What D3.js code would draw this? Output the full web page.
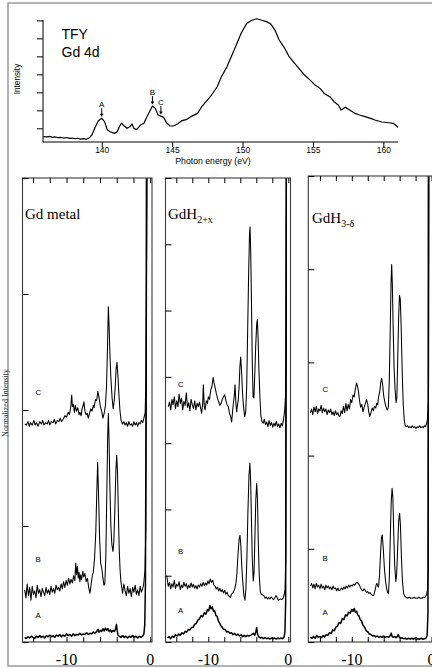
<!DOCTYPE html>
<html><head><meta charset="utf-8">
<script src="https://cdn.jsdelivr.net/npm/d3@7"></script>
<style>html,body{margin:0;padding:0;background:#fff;} svg{display:block;}</style>
</head><body>
<svg id="c" width="432" height="668"></svg>
<script>
// ---------------- DATA ----------------
// Top panel: TFY Gd 4d spectrum
const topEnergy = [135.85,136.1,136.3,136.5,136.7,136.9,137.1,137.3,137.5,137.7,137.9,138.1,138.3,138.5,138.7,138.9,139.1,139.3,139.5,139.75,140.0,140.2,140.4,140.6,140.9,141.1,141.25,141.4,141.6,141.8,142.0,142.15,142.3,142.5,142.75,143.0,143.15,143.4,143.6,143.8,144.0,144.2,144.4,144.6,144.85,145.1,145.4,145.7,146.0,146.4,146.8,147.1,147.5,147.8,148.2,148.5,148.9,149.2,149.6,149.9,150.3,150.6,151.0,151.3,151.7,152.0,152.3,152.6,153.0,153.3,153.7,154.0,154.4,154.8,155.1,155.5,155.8,156.2,156.5,156.8,157.0,157.3,157.6,158.0,158.3,158.7,159.1,159.4,159.9,160.4,160.7,161.05];
const topIntensity = [0.54,0.52,0.55,0.50,0.52,0.48,0.50,0.46,0.49,0.44,0.46,0.42,0.45,0.40,0.43,0.39,0.46,0.63,1.00,1.41,1.56,1.37,0.91,0.81,0.72,0.81,1.09,1.28,1.13,1.00,1.09,1.24,0.98,0.94,1.18,1.28,1.55,1.93,2.24,2.11,1.74,1.68,1.61,1.31,1.13,1.13,1.25,1.43,1.48,1.68,1.83,2.20,2.57,2.85,3.31,3.87,4.43,4.98,5.72,6.28,6.83,6.98,7.09,7.02,6.93,6.80,6.46,5.91,5.44,5.00,4.61,4.33,3.96,3.68,3.44,3.22,2.94,2.76,2.48,2.30,2.02,2.17,2.02,1.83,1.74,1.65,1.55,1.46,1.35,1.31,1.28,1.06];
const topMarkerLabels = ["A","B","C"];
const topMarkerEnergy = [140.0, 143.6, 144.2];
const topXTicks = [140,145,150,155,160];
const topYTicks = [1,2,3,4,5,6,7];

// Lower panels: emission spectra (energy in eV, normalized intensity)
const lowerXTicks = [-14,-12,-10,-8,-6,-4,-2,0];
const lowerXLabels = [-10, 0];
const curveLabels = ["A","B","C"];

const gdMetalA = [[-15.0,0.04],[-14.8,0.03],[-14.6,0.045],[-14.4,0.035],[-14.2,0.05],[-14.0,0.04],[-13.8,0.03],[-13.6,0.05],[-13.4,0.04],[-13.2,0.055],[-13.0,0.04],[-12.8,0.05],[-12.6,0.035],[-12.4,0.055],[-12.2,0.045],[-12.0,0.06],[-11.8,0.045],[-11.6,0.055],[-11.4,0.04],[-11.2,0.06],[-11.0,0.05],[-10.8,0.065],[-10.6,0.045],[-10.4,0.06],[-10.2,0.05],[-10.0,0.07],[-9.8,0.055],[-9.6,0.065],[-9.4,0.05],[-9.2,0.07],[-9.0,0.055],[-8.8,0.065],[-8.6,0.06],[-8.4,0.075],[-8.2,0.06],[-8.0,0.07],[-7.8,0.065],[-7.6,0.08],[-7.4,0.065],[-7.2,0.075],[-7.0,0.07],[-6.8,0.085],[-6.6,0.075],[-6.4,0.09],[-6.25,0.11],[-6.1,0.085],[-5.95,0.10],[-5.8,0.09],[-5.65,0.115],[-5.5,0.095],[-5.35,0.12],[-5.2,0.10],[-5.05,0.115],[-4.9,0.09],[-4.75,0.105],[-4.6,0.085],[-4.45,0.10],[-4.3,0.09],[-4.15,0.11],[-4.03,0.15],[-3.95,0.10],[-3.85,0.06],[-3.7,0.05],[-3.5,0.04],[-3.3,0.055],[-3.1,0.04],[-2.9,0.05],[-2.7,0.035],[-2.5,0.05],[-2.3,0.04],[-2.1,0.055],[-1.9,0.04],[-1.7,0.05],[-1.5,0.035],[-1.3,0.05],[-1.1,0.04],[-0.9,0.05],[-0.75,0.07],[-0.65,0.15],[-0.57,0.5],[-0.5,2.0],[-0.4,6.0],[0.3,6.0]];
const gdMetalB = [[-15.0,0.45],[-14.85,0.38],[-14.7,0.50],[-14.55,0.40],[-14.4,0.47],[-14.25,0.36],[-14.1,0.48],[-13.95,0.41],[-13.8,0.44],[-13.65,0.38],[-13.5,0.49],[-13.35,0.42],[-13.2,0.45],[-13.05,0.39],[-12.9,0.46],[-12.75,0.43],[-12.6,0.40],[-12.45,0.47],[-12.3,0.42],[-12.15,0.45],[-12.0,0.41],[-11.85,0.48],[-11.7,0.43],[-11.55,0.46],[-11.4,0.42],[-11.25,0.49],[-11.1,0.45],[-10.95,0.47],[-10.8,0.44],[-10.65,0.50],[-10.5,0.46],[-10.35,0.52],[-10.2,0.47],[-10.05,0.53],[-9.9,0.49],[-9.75,0.55],[-9.6,0.50],[-9.45,0.54],[-9.3,0.51],[-9.15,0.57],[-9.0,0.53],[-8.9,0.68],[-8.8,0.58],[-8.7,0.65],[-8.6,0.55],[-8.5,0.60],[-8.4,0.52],[-8.3,0.58],[-8.2,0.54],[-8.05,0.61],[-7.95,0.56],[-7.8,0.59],[-7.65,0.52],[-7.5,0.55],[-7.35,0.47],[-7.2,0.42],[-7.05,0.50],[-6.9,0.58],[-6.8,0.60],[-6.65,0.72],[-6.5,0.95],[-6.38,1.30],[-6.28,1.55],[-6.18,1.30],[-6.05,0.90],[-5.92,0.68],[-5.8,0.64],[-5.65,0.55],[-5.52,0.49],[-5.42,0.50],[-5.3,0.75],[-5.18,1.30],[-5.08,1.78],[-5.0,1.97],[-4.92,1.75],[-4.82,1.35],[-4.7,1.00],[-4.58,0.84],[-4.45,0.78],[-4.35,0.86],[-4.22,1.15],[-4.1,1.48],[-4.0,1.61],[-3.9,1.45],[-3.8,1.10],[-3.7,0.80],[-3.6,0.62],[-3.5,0.52],[-3.4,0.47],[-3.3,0.42],[-3.15,0.50],[-3.0,0.44],[-2.85,0.40],[-2.7,0.48],[-2.55,0.42],[-2.4,0.46],[-2.25,0.39],[-2.1,0.47],[-1.95,0.43],[-1.8,0.49],[-1.65,0.41],[-1.5,0.45],[-1.35,0.40],[-1.2,0.48],[-1.05,0.43],[-0.9,0.46],[-0.78,0.50],[-0.62,0.62],[-0.52,1.0],[-0.45,2.5],[-0.33,6.0],[0.3,6.0]];
const gdMetalC = [[-15.0,1.88],[-14.8,1.87],[-14.6,1.90],[-14.45,1.86],[-14.3,1.89],[-14.1,1.87],[-13.9,1.91],[-13.75,1.87],[-13.6,1.89],[-13.4,1.86],[-13.2,1.90],[-13.0,1.88],[-12.85,1.91],[-12.7,1.87],[-12.5,1.89],[-12.3,1.88],[-12.15,1.91],[-12.0,1.87],[-11.8,1.90],[-11.6,1.89],[-11.45,1.92],[-11.3,1.88],[-11.1,1.91],[-10.9,1.90],[-10.75,1.93],[-10.6,1.90],[-10.4,1.92],[-10.2,1.95],[-10.0,1.94],[-9.8,1.98],[-9.65,1.96],[-9.5,2.02],[-9.38,2.13],[-9.3,2.03],[-9.19,2.05],[-9.05,1.98],[-8.95,2.04],[-8.8,1.99],[-8.65,2.02],[-8.5,1.96],[-8.4,1.98],[-8.25,1.95],[-8.15,2.01],[-8.05,2.03],[-7.92,2.07],[-7.8,1.99],[-7.67,1.96],[-7.52,1.97],[-7.4,1.93],[-7.25,1.97],[-7.1,2.01],[-6.95,1.99],[-6.8,2.04],[-6.7,2.02],[-6.55,2.09],[-6.4,2.08],[-6.25,2.16],[-6.1,2.10],[-5.95,2.03],[-5.8,1.99],[-5.65,1.93],[-5.5,1.97],[-5.35,2.04],[-5.22,2.20],[-5.1,2.55],[-5.0,2.89],[-4.9,2.70],[-4.8,2.45],[-4.7,2.28],[-4.55,2.10],[-4.42,2.01],[-4.3,2.08],[-4.18,2.20],[-4.07,2.36],[-3.97,2.41],[-3.86,2.30],[-3.75,2.15],[-3.62,2.00],[-3.48,1.91],[-3.3,1.88],[-3.15,1.90],[-3.0,1.87],[-2.85,1.89],[-2.7,1.86],[-2.55,1.90],[-2.4,1.87],[-2.25,1.88],[-2.1,1.86],[-1.95,1.90],[-1.8,1.87],[-1.65,1.89],[-1.5,1.86],[-1.35,1.89],[-1.2,1.88],[-1.05,1.91],[-0.9,1.89],[-0.75,1.93],[-0.6,1.98],[-0.5,2.3],[-0.42,3.5],[-0.3,6.0],[0.3,6.0]];

const gdH2A = [[-15.1,0.06],[-14.9,0.08],[-14.7,0.05],[-14.5,0.09],[-14.3,0.07],[-14.1,0.11],[-13.9,0.09],[-13.7,0.12],[-13.5,0.10],[-13.3,0.14],[-13.1,0.12],[-12.9,0.16],[-12.7,0.15],[-12.5,0.19],[-12.3,0.18],[-12.1,0.22],[-11.9,0.22],[-11.7,0.27],[-11.5,0.28],[-11.3,0.33],[-11.1,0.35],[-10.9,0.40],[-10.7,0.38],[-10.5,0.44],[-10.3,0.42],[-10.1,0.49],[-9.95,0.47],[-9.8,0.55],[-9.65,0.50],[-9.5,0.53],[-9.35,0.46],[-9.2,0.47],[-9.05,0.40],[-8.9,0.39],[-8.75,0.32],[-8.6,0.29],[-8.45,0.25],[-8.3,0.23],[-8.1,0.19],[-7.9,0.19],[-7.7,0.15],[-7.5,0.16],[-7.3,0.13],[-7.1,0.14],[-6.9,0.11],[-6.7,0.13],[-6.5,0.10],[-6.3,0.12],[-6.1,0.09],[-5.9,0.11],[-5.7,0.08],[-5.5,0.10],[-5.3,0.08],[-5.1,0.10],[-4.9,0.09],[-4.7,0.10],[-4.5,0.12],[-4.35,0.13],[-4.2,0.10],[-4.05,0.16],[-3.95,0.22],[-3.85,0.12],[-3.7,0.08],[-3.5,0.06],[-3.3,0.07],[-3.1,0.05],[-2.9,0.065],[-2.7,0.05],[-2.5,0.06],[-2.3,0.045],[-2.1,0.06],[-1.9,0.05],[-1.7,0.06],[-1.5,0.045],[-1.3,0.06],[-1.1,0.05],[-0.9,0.06],[-0.7,0.05],[-0.55,0.07],[-0.42,0.15],[-0.33,0.6],[-0.25,9],[0.4,9]];
const gdH2B = [[-15.2,1.0],[-15.1,0.92],[-15.0,0.84],[-14.85,0.90],[-14.7,0.80],[-14.55,0.88],[-14.4,0.83],[-14.25,0.93],[-14.1,0.81],[-13.95,0.87],[-13.8,0.84],[-13.65,0.91],[-13.5,0.79],[-13.35,0.86],[-13.2,0.82],[-13.05,0.90],[-12.9,0.84],[-12.75,0.88],[-12.6,0.80],[-12.45,0.86],[-12.3,0.82],[-12.15,0.89],[-12.0,0.83],[-11.85,0.87],[-11.7,0.81],[-11.55,0.85],[-11.4,0.80],[-11.25,0.86],[-11.1,0.83],[-10.95,0.88],[-10.8,0.84],[-10.65,0.90],[-10.5,0.85],[-10.35,0.89],[-10.2,0.86],[-10.05,0.92],[-9.9,0.88],[-9.75,0.95],[-9.6,0.90],[-9.45,0.93],[-9.3,0.86],[-9.15,0.84],[-9.0,0.80],[-8.85,0.83],[-8.7,0.77],[-8.55,0.81],[-8.4,0.76],[-8.25,0.79],[-8.1,0.74],[-7.95,0.78],[-7.8,0.72],[-7.65,0.75],[-7.5,0.70],[-7.35,0.69],[-7.25,0.67],[-7.1,0.72],[-6.95,0.74],[-6.85,0.76],[-6.7,0.80],[-6.55,0.88],[-6.42,1.04],[-6.3,1.30],[-6.15,1.55],[-6.04,1.61],[-5.93,1.45],[-5.82,1.15],[-5.7,0.92],[-5.55,0.70],[-5.42,0.63],[-5.3,0.80],[-5.18,1.25],[-5.05,1.95],[-4.92,2.50],[-4.8,2.70],[-4.7,2.40],[-4.6,1.80],[-4.5,1.25],[-4.38,0.92],[-4.28,1.05],[-4.18,1.55],[-4.06,2.15],[-3.95,2.39],[-3.85,2.15],[-3.75,1.50],[-3.63,1.00],[-3.5,0.76],[-3.38,0.72],[-3.2,0.71],[-3.05,0.70],[-2.9,0.66],[-2.75,0.68],[-2.6,0.65],[-2.45,0.67],[-2.3,0.65],[-2.15,0.68],[-2.0,0.66],[-1.85,0.64],[-1.7,0.66],[-1.55,0.70],[-1.4,0.67],[-1.25,0.63],[-1.1,0.64],[-0.95,0.65],[-0.8,0.64],[-0.65,0.66],[-0.5,0.72],[-0.4,0.80],[-0.3,1.3],[-0.2,9],[0.4,9]];
const gdH2C = [[-15.0,3.55],[-14.85,3.62],[-14.7,3.50],[-14.55,3.66],[-14.4,3.58],[-14.25,3.70],[-14.1,3.52],[-13.95,3.64],[-13.8,3.55],[-13.65,3.74],[-13.5,3.60],[-13.35,3.68],[-13.2,3.50],[-13.05,3.63],[-12.9,3.57],[-12.75,3.76],[-12.6,3.54],[-12.45,3.61],[-12.3,3.49],[-12.15,3.66],[-12.0,3.58],[-11.85,3.52],[-11.7,3.64],[-11.55,3.50],[-11.4,3.60],[-11.25,3.55],[-11.1,3.62],[-10.95,3.52],[-10.83,3.45],[-10.7,3.60],[-10.62,3.88],[-10.5,3.55],[-10.4,3.50],[-10.25,3.64],[-10.1,3.60],[-10.0,3.70],[-9.85,3.66],[-9.7,3.80],[-9.55,3.85],[-9.4,3.99],[-9.3,3.92],[-9.15,3.84],[-9.0,3.75],[-8.85,3.68],[-8.7,3.62],[-8.55,3.57],[-8.4,3.60],[-8.25,3.66],[-8.1,3.70],[-7.95,3.73],[-7.8,3.64],[-7.65,3.58],[-7.5,3.55],[-7.35,3.45],[-7.2,3.40],[-7.08,3.32],[-6.95,3.50],[-6.85,3.62],[-6.75,3.72],[-6.66,3.88],[-6.55,3.60],[-6.45,3.47],[-6.35,3.58],[-6.25,3.65],[-6.15,3.85],[-6.05,4.15],[-5.95,4.30],[-5.85,4.10],[-5.72,3.75],[-5.6,3.55],[-5.45,3.40],[-5.32,3.48],[-5.2,3.85],[-5.08,4.70],[-4.95,5.60],[-4.85,6.15],[-4.78,6.26],[-4.7,5.90],[-4.6,5.10],[-4.5,4.20],[-4.4,3.70],[-4.3,3.68],[-4.2,4.00],[-4.08,4.45],[-3.95,4.80],[-3.87,4.86],[-3.78,4.60],[-3.67,4.10],[-3.55,3.70],[-3.43,3.42],[-3.3,3.33],[-3.15,3.30],[-3.0,3.36],[-2.85,3.28],[-2.7,3.32],[-2.55,3.25],[-2.4,3.34],[-2.25,3.27],[-2.1,3.31],[-1.95,3.24],[-1.8,3.30],[-1.65,3.26],[-1.5,3.33],[-1.35,3.25],[-1.2,3.29],[-1.05,3.23],[-0.9,3.30],[-0.75,3.26],[-0.6,3.35],[-0.45,3.50],[-0.35,3.7],[-0.27,4.5],[-0.18,9],[0.4,9]];

const gdH3A = [[-15.2,0.05],[-15.0,0.04],[-14.8,0.06],[-14.6,0.04],[-14.4,0.07],[-14.2,0.05],[-14.0,0.06],[-13.8,0.045],[-13.6,0.07],[-13.4,0.055],[-13.2,0.08],[-13.0,0.07],[-12.8,0.10],[-12.6,0.09],[-12.4,0.13],[-12.2,0.12],[-12.0,0.16],[-11.8,0.17],[-11.6,0.21],[-11.4,0.20],[-11.2,0.25],[-11.0,0.24],[-10.8,0.29],[-10.6,0.28],[-10.4,0.32],[-10.2,0.31],[-10.0,0.35],[-9.85,0.33],[-9.7,0.36],[-9.55,0.32],[-9.4,0.33],[-9.25,0.29],[-9.1,0.28],[-8.95,0.24],[-8.8,0.23],[-8.65,0.19],[-8.5,0.17],[-8.35,0.15],[-8.2,0.12],[-8.0,0.11],[-7.8,0.085],[-7.6,0.08],[-7.4,0.065],[-7.2,0.07],[-7.0,0.055],[-6.8,0.065],[-6.6,0.05],[-6.4,0.06],[-6.2,0.05],[-6.0,0.065],[-5.8,0.05],[-5.6,0.06],[-5.4,0.05],[-5.2,0.065],[-5.05,0.095],[-4.95,0.06],[-4.8,0.05],[-4.6,0.06],[-4.45,0.045],[-4.3,0.06],[-4.17,0.08],[-4.05,0.05],[-3.9,0.04],[-3.7,0.045],[-3.5,0.035],[-3.3,0.04],[-3.1,0.03],[-2.9,0.04],[-2.7,0.03],[-2.5,0.04],[-2.3,0.03],[-2.1,0.04],[-1.9,0.03],[-1.7,0.035],[-1.5,0.03],[-1.3,0.04],[-1.1,0.03],[-0.9,0.035],[-0.7,0.04],[-0.55,0.07],[-0.45,0.3],[-0.37,7],[0.5,7]];
const gdH3B = [[-15.2,0.60],[-15.05,0.63],[-14.9,0.58],[-14.75,0.62],[-14.6,0.57],[-14.45,0.63],[-14.3,0.59],[-14.15,0.61],[-14.0,0.57],[-13.85,0.62],[-13.7,0.58],[-13.55,0.60],[-13.4,0.56],[-13.25,0.61],[-13.1,0.58],[-12.95,0.60],[-12.8,0.57],[-12.65,0.59],[-12.5,0.56],[-12.35,0.60],[-12.2,0.57],[-12.05,0.58],[-11.9,0.55],[-11.75,0.58],[-11.6,0.55],[-11.45,0.56],[-11.3,0.58],[-11.15,0.56],[-11.0,0.59],[-10.85,0.57],[-10.7,0.60],[-10.55,0.58],[-10.4,0.61],[-10.25,0.59],[-10.1,0.61],[-9.95,0.60],[-9.8,0.62],[-9.65,0.61],[-9.5,0.63],[-9.35,0.64],[-9.2,0.63],[-9.05,0.61],[-8.9,0.58],[-8.75,0.56],[-8.6,0.55],[-8.45,0.57],[-8.3,0.55],[-8.15,0.53],[-8.0,0.54],[-7.85,0.52],[-7.7,0.53],[-7.55,0.51],[-7.4,0.50],[-7.25,0.50],[-7.1,0.55],[-6.95,0.61],[-6.85,0.63],[-6.75,0.60],[-6.65,0.59],[-6.52,0.72],[-6.4,0.95],[-6.28,1.12],[-6.18,1.15],[-6.05,1.00],[-5.92,0.80],[-5.8,0.68],[-5.65,0.58],[-5.5,0.53],[-5.4,0.52],[-5.3,0.68],[-5.18,1.10],[-5.06,1.50],[-4.95,1.65],[-4.85,1.55],[-4.75,1.20],[-4.62,0.82],[-4.48,0.65],[-4.38,0.72],[-4.25,1.00],[-4.12,1.30],[-4.0,1.38],[-3.9,1.25],[-3.78,0.92],[-3.65,0.65],[-3.5,0.52],[-3.35,0.49],[-3.2,0.48],[-3.0,0.47],[-2.8,0.48],[-2.6,0.47],[-2.4,0.47],[-2.2,0.48],[-2.0,0.47],[-1.8,0.47],[-1.6,0.48],[-1.4,0.47],[-1.2,0.47],[-1.0,0.48],[-0.8,0.48],[-0.62,0.51],[-0.5,0.56],[-0.4,0.75],[-0.32,7],[0.5,7]];
const gdH3C = [[-15.2,2.46],[-15.05,2.50],[-14.9,2.44],[-14.75,2.52],[-14.6,2.47],[-14.45,2.53],[-14.3,2.45],[-14.15,2.50],[-14.0,2.48],[-13.85,2.54],[-13.7,2.46],[-13.55,2.51],[-13.4,2.47],[-13.25,2.50],[-13.1,2.44],[-12.95,2.49],[-12.8,2.46],[-12.65,2.50],[-12.5,2.44],[-12.35,2.47],[-12.2,2.43],[-12.05,2.48],[-11.9,2.44],[-11.75,2.46],[-11.6,2.42],[-11.48,2.42],[-11.35,2.48],[-11.2,2.45],[-11.05,2.53],[-10.9,2.46],[-10.75,2.56],[-10.6,2.48],[-10.45,2.55],[-10.3,2.50],[-10.15,2.60],[-10.0,2.57],[-9.85,2.65],[-9.7,2.63],[-9.55,2.72],[-9.4,2.78],[-9.28,2.74],[-9.18,2.70],[-9.05,2.60],[-8.9,2.52],[-8.75,2.55],[-8.6,2.47],[-8.45,2.52],[-8.3,2.56],[-8.15,2.60],[-8.0,2.55],[-7.88,2.47],[-7.75,2.42],[-7.6,2.46],[-7.45,2.51],[-7.3,2.48],[-7.15,2.53],[-7.0,2.51],[-6.88,2.56],[-6.75,2.55],[-6.65,2.63],[-6.5,2.68],[-6.38,2.78],[-6.25,2.83],[-6.12,2.75],[-6.0,2.64],[-5.85,2.57],[-5.7,2.52],[-5.55,2.49],[-5.42,2.52],[-5.3,2.80],[-5.18,3.35],[-5.08,3.85],[-5.0,4.05],[-4.92,3.85],[-4.82,3.40],[-4.7,2.95],[-4.58,2.72],[-4.45,2.57],[-4.35,2.62],[-4.25,3.00],[-4.12,3.50],[-4.02,3.72],[-3.92,3.68],[-3.8,3.35],[-3.68,2.90],[-3.55,2.55],[-3.42,2.38],[-3.3,2.32],[-3.15,2.31],[-3.0,2.32],[-2.85,2.30],[-2.7,2.31],[-2.55,2.30],[-2.4,2.32],[-2.25,2.30],[-2.1,2.31],[-1.95,2.29],[-1.8,2.31],[-1.65,2.30],[-1.5,2.32],[-1.35,2.30],[-1.2,2.31],[-1.05,2.30],[-0.9,2.32],[-0.75,2.31],[-0.6,2.35],[-0.5,2.40],[-0.38,2.6],[-0.3,7],[0.5,7]];

const panelTitles = ["Gd metal", "GdH", "GdH"];
const panelSubscripts = ["", "2+x", "3-\u03b4"];
const panelYTicks = [[0,1,2,3,4],[0,1,2,3,4,5,6,7],[0,1,2,3,4,5]];
const panelCurves = [[gdMetalA, gdMetalB, gdMetalC],[gdH2A, gdH2B, gdH2C],[gdH3A, gdH3B, gdH3C]];

// ---------------- DRAW ----------------
const svg = d3.select("#c");
const SANS = "'Liberation Sans', Arial, sans-serif";
const SERIF = "'Liberation Serif', 'Times New Roman', serif";

// outer frame
svg.append("rect").attr("x",8).attr("y",3).attr("width",440).attr("height",663)
  .attr("fill","none").attr("stroke","#9a9a9a").attr("stroke-width",1.5);

// ---- top panel ----
const tx = d3.scaleLinear().domain([135.83,161.04]).range([43,398]);
const ty = d3.scaleLinear().domain([0.24,7.02]).range([142,20]);
const topG = svg.append("g");
const xAx = topG.append("g").attr("transform","translate(0,142)")
  .call(d3.axisBottom(tx).tickValues(topXTicks).tickSize(5).tickPadding(0).tickSizeOuter(0));
xAx.select(".domain").attr("d","M43,0H398");
xAx.selectAll("text").attr("font-family",SANS).attr("font-size",8.5).attr("fill","#000")
  .attr("dy",null).attr("y",11.3);
const yAx = topG.append("g").attr("transform","translate(43,0)")
  .call(d3.axisLeft(ty).tickValues(topYTicks).tickSize(6).tickFormat("").tickSizeOuter(0));
yAx.select(".domain").attr("d","M0,20V142");
topG.selectAll(".domain, .tick line").attr("stroke","#000").attr("stroke-width",1);

topG.append("text").attr("x",213).attr("y",163.5).attr("text-anchor","middle")
  .attr("font-family",SANS).attr("font-size",8.7).text("Photon energy (eV)");
topG.append("text").attr("transform","translate(19.5,79) rotate(-90)").attr("text-anchor","middle")
  .attr("font-family",SANS).attr("font-size",8.2).text("Intensity");
topG.append("text").attr("x",61.5).attr("y",39.3).attr("font-family",SANS).attr("font-size",14).text("TFY");
topG.append("text").attr("x",61.5).attr("y",56.7).attr("font-family",SANS).attr("font-size",14).text("Gd 4d");

const topData = topEnergy.map((e,i)=>[e, topIntensity[i]]);
topG.append("path").datum(topData)
  .attr("d", d3.line().x(d=>tx(d[0])).y(d=>ty(d[1])))
  .attr("fill","none").attr("stroke","#000").attr("stroke-width",1.2).attr("stroke-linejoin","round");

const interp = e => {
  for (let i=1;i<topEnergy.length;i++){
    if (topEnergy[i]>=e){const t=(e-topEnergy[i-1])/(topEnergy[i]-topEnergy[i-1]);return topIntensity[i-1]+t*(topIntensity[i]-topIntensity[i-1]);}
  }
  return topIntensity[topIntensity.length-1];
};
topMarkerLabels.forEach((lab,i)=>{
  const x = tx(topMarkerEnergy[i]);
  const py = ty(interp(topMarkerEnergy[i]));
  const yEnd = py - 1.5, yStart = yEnd - 8.5;
  topG.append("line").attr("x1",x).attr("x2",x).attr("y1",yStart).attr("y2",yEnd-2.5)
    .attr("stroke","#000").attr("stroke-width",1);
  topG.append("path").attr("d",`M${x-1.8},${yEnd-3}L${x+1.8},${yEnd-3}L${x},${yEnd}Z`).attr("fill","#000");
  topG.append("text").attr("x",x).attr("y",yStart-1.5).attr("text-anchor","middle")
    .attr("font-family",SANS).attr("font-size",8).text(lab);
});

// ---- lower panels ----
const panels = [
  {x0:22.5, x1:152,   y0:178, y1:642, e0:-15.26, e1:0.215, titleX:25,  titleY:219,
   labX:35.5, labY:[618,562,395.3]},
  {x0:165.5,x1:290.5, y0:178, y1:642, e0:-15.35, e1:0.275, titleX:168, titleY:219,
   labX:178,  labY:[612.7,553.5,387]},
  {x0:308.3,x1:434,   y0:176, y1:642, e0:-15.46, e1:0.31,  titleX:312, titleY:223,
   labX:322.5,labY:[615.3,560.7,391.5]}
];
const curveWidths = [1.5, 1.05, 1.05];

panels.forEach((p,pi)=>{
  const g = svg.append("g");
  const x = d3.scaleLinear().domain([p.e0,p.e1]).range([p.x0,p.x1]);
  const yt = panelYTicks[pi];
  const y = d3.scaleLinear().domain([0, yt[yt.length-1]]).range([p.y1,p.y0]);
  const cid = "clip"+pi;
  svg.append("clipPath").attr("id",cid).append("rect")
    .attr("x",p.x0).attr("y",p.y0).attr("width",p.x1-p.x0).attr("height",p.y1-p.y0);

  const line = d3.line().x(d=>x(d[0])).y(d=>y(d[1]));
  panelCurves[pi].forEach((c,ci)=>{
    g.append("path").datum(c).attr("clip-path",`url(#${cid})`)
      .attr("d",line).attr("fill","none").attr("stroke","#000")
      .attr("stroke-width",curveWidths[ci]).attr("stroke-linejoin","round");
  });

  g.append("rect").attr("x",p.x0).attr("y",p.y0).attr("width",p.x1-p.x0).attr("height",p.y1-p.y0)
    .attr("fill","none").attr("stroke","#3a3a3a").attr("stroke-width",1.1);

  const bt = g.append("g").attr("transform",`translate(0,${p.y1})`)
    .call(d3.axisTop(x).tickValues(lowerXTicks).tickSize(5).tickFormat("").tickSizeOuter(0));
  bt.select(".domain").remove();
  const tt = g.append("g").attr("transform",`translate(0,${p.y0})`)
    .call(d3.axisBottom(x).tickValues(lowerXTicks).tickSize(5).tickFormat("").tickSizeOuter(0));
  tt.select(".domain").remove();
  const lt = g.append("g").attr("transform",`translate(${p.x0},0)`)
    .call(d3.axisRight(y).tickValues(yt).tickSize(6).tickFormat("").tickSizeOuter(0));
  lt.select(".domain").remove();
  g.selectAll(".tick line").attr("stroke","#000").attr("stroke-width",1);

  lowerXLabels.forEach(v=>{
    g.append("text").attr("x",x(v)).attr("y",664.5).attr("text-anchor","middle")
      .attr("font-family",SERIF).attr("font-size",16).text(v===0?"0":"-"+Math.abs(v));
  });

  const t = g.append("text").attr("x",p.titleX).attr("y",p.titleY)
    .attr("font-family",SERIF).attr("font-size",15);
  t.append("tspan").text(panelTitles[pi]);
  if (panelSubscripts[pi]) t.append("tspan").attr("dy",3.5).attr("font-size",10).text(panelSubscripts[pi]);

  curveLabels.forEach((lab,ci)=>{
    g.append("text").attr("x",p.labX).attr("y",p.labY[ci])
      .attr("font-family",SANS).attr("font-size",7.8).text(lab);
  });
});

svg.append("text").attr("transform","translate(7.5,403) rotate(-90)").attr("text-anchor","middle")
  .attr("font-family",SERIF).attr("font-size",8).attr("fill","#333").text("Normalized Intensity");
</script>
</body></html>
